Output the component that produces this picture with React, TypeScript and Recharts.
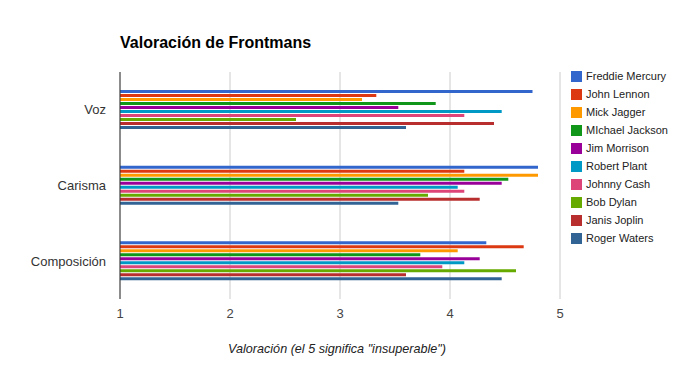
import React from "react";
import { BarChart, Bar, XAxis, YAxis, CartesianGrid } from "recharts";

const categories = ["Voz", "Carisma", "Composición"];

const singers = [
  "Freddie Mercury",
  "John Lennon",
  "Mick Jagger",
  "MIchael Jackson",
  "Jim Morrison",
  "Robert Plant",
  "Johnny Cash",
  "Bob Dylan",
  "Janis Joplin",
  "Roger Waters",
];

const colors = [
  "#3366cc",
  "#dc3912",
  "#ff9900",
  "#109618",
  "#990099",
  "#0099c6",
  "#dd4477",
  "#66aa00",
  "#b82e2e",
  "#316395",
];

// one array per category, in singer order
const voz = [4.75, 3.33, 3.2, 3.87, 3.53, 4.47, 4.13, 2.6, 4.4, 3.6];
const carisma = [4.8, 4.13, 4.8, 4.53, 4.47, 4.07, 4.13, 3.8, 4.27, 3.53];
const composicion = [4.33, 4.67, 4.07, 3.73, 4.27, 4.13, 3.93, 4.6, 3.6, 4.47];

const xTicks = [1, 2, 3, 4, 5];

const values = [voz, carisma, composicion];
const data = categories.map((name, i) => {
  const row: Record<string, string | number> = { name };
  singers.forEach((s, j) => {
    row[s] = values[i][j];
  });
  return row;
});

const font = "Arial, 'Liberation Sans', sans-serif";

function LegendBox() {
  return (
    <div
      style={{
        position: "absolute",
        left: 571,
        top: 67,
        fontFamily: font,
        fontSize: 11,
        color: "#222",
      }}
    >
      {singers.map((s, i) => (
        <div
          key={s}
          style={{ display: "flex", alignItems: "center", height: 18 }}
        >
          <span
            style={{
              display: "inline-block",
              width: 11,
              height: 11,
              background: colors[i],
              marginRight: 4,
            }}
          />
          <span>{s}</span>
        </div>
      ))}
    </div>
  );
}

export default function App() {
  return (
    <div
      style={{
        position: "absolute",
        left: 0,
        top: 0,
        width: 679,
        height: 371,
        background: "#fff",
        fontFamily: font,
      }}
    >
      <div
        style={{
          position: "absolute",
          left: 120,
          top: 34,
          fontSize: 16,
          fontWeight: "bold",
          color: "#000",
        }}
      >
        Valoración de Frontmans
      </div>
      <BarChart
        width={679}
        height={371}
        data={data}
        layout="vertical"
        margin={{ top: 72, right: 119, left: 0, bottom: 0 }}
        barSize={3}
        barGap={1}
      >
        <CartesianGrid horizontal={false} stroke="#cccccc" />
        <XAxis
          type="number"
          domain={[1, 5]}
          ticks={xTicks}
          allowDataOverflow
          axisLine={false}
          tickLine={false}
          tickMargin={4}
          height={72}
          tick={{ fill: "#444", fontSize: 13, fontFamily: font }}
          label={{
            value: 'Valoración (el 5 significa "insuperable")',
            position: "insideBottom",
            offset: 18,
            dx: -3,
            fill: "#222",
            fontSize: 12.6,
            fontStyle: "italic",
            fontFamily: font,
          }}
        />
        <YAxis
          type="category"
          dataKey="name"
          width={120}
          tickLine={false}
          tickMargin={8}
          axisLine={{ stroke: "#333" }}
          tick={{ fill: "#333", fontSize: 13, fontFamily: font }}
        />
        {singers.map((s, i) => (
          <Bar
            key={s}
            dataKey={s}
            fill={colors[i]}
            isAnimationActive={false}
          />
        ))}
      </BarChart>
      <LegendBox />
    </div>
  );
}
